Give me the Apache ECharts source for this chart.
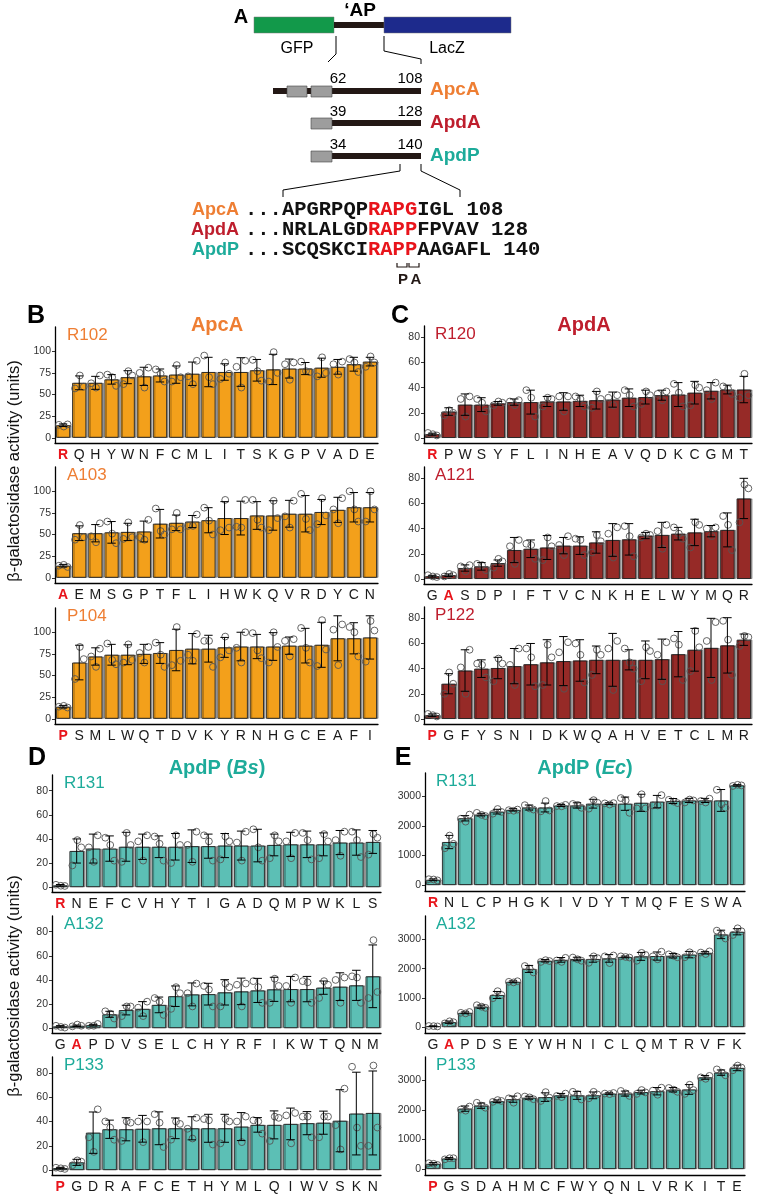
<!DOCTYPE html>
<html>
<head>
<meta charset="utf-8">
<script src="https://cdn.jsdelivr.net/npm/echarts@6/dist/echarts.min.js"></script>
<style>
  body { margin: 0; background: #fff; }
  #main { width: 759px; height: 1195px; }
</style>
</head>
<body>
<div id="main"></div>
<script>
// ---- data: B ApcA ----
var apcaR102Labels = ['R','Q','H','Y','W','N','F','C','M','L','I','T','S','K','G','P','V','A','D','E'];
var apcaR102Mean = [14.5,63.5,63.5,67.5,70,71,72,73,74,76,76,76,78,79,80,80,81,82,85,88];
var apcaR102Sd = [1.5,8,7.5,5.5,7.5,10.5,7.5,10,13.5,17,9.5,16.5,12.5,17.5,11,7,11,8.5,8,5];
var apcaR102Reps = [[15,13,15.5],[72,59,57],[72,63,58],[73,70,60],[77,72,62],[81,75,58],[79,74,65],[84,70,65],[89,71,62],[95,70,62],[87,74,68],[89,82,58],[90,77,66],[99,75,65],[87,85,67],[88,77,76],[93,75,71],[88,85,73],[91,87,76],[94,87,82]];

var apcaA103Labels = ['A','E','M','S','G','P','T','F','L','I','H','W','K','Q','V','R','D','Y','C','N'];
var apcaA103Mean = [14,51.5,51.5,52.5,53,53.5,62.5,63.5,65,66.5,69,69,72,72,74,74,76,78.5,81.5,81.5];
var apcaA103Sd = [1.5,8.5,10,12.5,10,12,16.5,9,7,14.5,19,19.5,16,17,15.5,21,14.5,14.5,17,17];
var apcaA103Reps = [[14,15,12.5],[61,47,44],[63,48,41],[65,51,40],[64,47,45],[67,47,44],[80,54,50],[75,56,56],[73,60,60],[81,66,50],[90,58,55],[90,59,58],[90,67,58],[89,69,55],[89,71,58],[97,68,55],[92,72,62],[92,79,63],[100,79,65],[100,79,65]];

var apcaP104Labels = ['P','S','M','L','W','Q','T','D','V','K','Y','R','N','H','G','C','E','A','F','I'];
var apcaP104Mean = [14,65,72,74,74,75,76,79.5,81,81,82.5,83.5,83.5,83.5,84.5,84.5,85.5,93,93,94];
var apcaP104Sd = [1.5,20,10,12,11.5,11,12,24,17.5,15.5,11.5,16.5,14,16,10,20,26,26,18,25];
var apcaP104Reps = [[14,15,13],[83,69,46],[81,72,60],[87,68,63],[86,68,65],[83,76,65],[88,74,60],[106,67,62],[98,74,67],[90,90,60],[95,79,71],[100,82,65],[99,79,70],[100,83,65],[92,90,72],[105,82,65],[114,80,61],[109,103,62],[106,100,72],[113,102,66]];

// ---- data: C ApdA ----
var apdaR120Labels = ['R','P','W','S','Y','F','L','I','N','H','E','A','V','Q','D','K','C','G','M','T'];
var apdaR120Mean = [3,21,26.5,26.5,27.5,28.5,28.5,29,29,29.5,30,30.5,32,32.5,34,34.5,36,37.5,38.5,38.5];
var apdaR120Sd = [0.8,3,8.5,5.5,1.5,2.5,9.5,4,7,4.5,7,6,7,5.5,4,9.5,9,6.5,3.5,10.5];
var apdaR120Reps = [[4,3,2],[22,20,18],[33,31,17],[31,28,21],[29,28,26],[30,29,26],[38,32,17],[32,31,25],[33,33,21],[33,31,25],[37,31,24],[34,32,26],[38,34,25],[37,34,27],[37,35,30],[43,36,25],[42,40,26],[44,38,31],[41,39,35],[51,34,32]];

var apdaA121Labels = ['G','A','S','D','P','I','F','T','V','C','N','K','H','E','L','W','Y','M','Q','R'];
var apdaA121Mean = [2.2,3,8.7,10,12.6,23,24,25,26.5,26.5,29,31,31.5,34.5,35,36,37,38,39,64];
var apdaA121Sd = [0.7,1,2.5,3,2.5,10,7,9.5,6.5,7,8.5,13,12.5,2.5,10,5,10.5,4.5,13.5,16];
var apdaA121Reps = [[3,2,1.5],[4,3,2],[11,10,6],[12,11,7],[16,14,9],[31,26,12],[28,27,16],[33,26,15],[34,27,19],[32,31,19],[35,30,21],[41,36,17],[42,34,18],[36,35,33],[43,38,24],[41,36,32],[45,43,25],[41,40,34],[50,43,23],[75,72,45]];

var apdaP122Labels = ['P','G','F','Y','S','N','I','D','K','W','Q','A','H','V','E','T','C','L','M','R'];
var apdaP122Mean = [3,28,38.5,40,40.5,42,43.5,45,46,46.5,47,47,47,47,47.5,51.5,55,56.5,58.5,63];
var apdaP122Sd = [1,8,16.5,7,8.5,14,16.5,18,19.5,16.5,11,21,8,15,16,18,17,23.5,22,4.5];
var apdaP122Reps = [[4,3,2],[37,28,20],[55,41,20],[44,43,33],[48,44,30],[56,43,27],[56,49,26],[59,49,27],[61,53,24],[60,51,29],[55,51,35],[62,56,23],[56,45,40],[57,54,30],[61,51,30],[64,59,31],[70,57,38],[77,62,31],[78,63,35],[66,65,58]];

// ---- data: D ApdP (Bs) ----
var bsR131Labels = ['R','N','E','F','C','V','H','Y','T','I','G','A','D','Q','M','P','W','K','L','S'];
var bsR131Mean = [1.5,30,32,32,33.5,33.5,33.5,33.5,34,34,34.5,34.5,34.5,35,35.5,35.5,35.5,37,37,37.5];
var bsR131Sd = [0.7,10,12,10.5,12,10.5,9,11,13.5,10,10,12,13.5,9,10,11,9.5,10,10.5,9.5];
var bsR131Reps = [[2,1.2,1],[39,33,18],[43,33,21],[41,35,22],[45,35,21],[43,38,22],[42,36,22],[43,35,20],[46,35,21],[43,38,22],[42,38,23],[46,37,22],[48,33,22],[43,38,24],[45,38,24],[45,39,23],[44,38,24],[46,39,26],[46,39,25],[44,41,27]];

var bsA132Labels = ['G','A','P','D','V','S','E','L','C','H','Y','R','F','I','K','W','T','Q','N','M'];
var bsA132Mean = [1.5,2,2.5,11.5,15,16,19.3,26.5,28,28.2,29.7,30.5,31.3,32.2,32.4,32.4,33.6,34.4,35.5,43];
var bsA132Sd = [0.6,0.6,0.7,2.5,4,6,6.5,8.5,9.5,9,10.5,11,10,10,10.5,10.5,5.5,11.5,12.5,26];
var bsA132Reps = [[2,1,0.5],[3,2,1.5],[3.5,2,2],[14,12,8],[18,18,10],[22,17,10],[25,22,11],[34,29,16],[37,29,18],[35,32,18],[37,34,18],[37,36,18],[39,34,21],[41,35,21],[42,35,21],[39,38,21],[39,36,25],[42,40,21],[43,42,21],[73,30,25]];

var bsP133Labels = ['P','G','D','R','A','F','C','E','T','H','Y','M','L','Q','I','W','V','S','K','N'];
var bsP133Mean = [1.7,6.4,30.8,33.6,33.6,34,34.4,34.4,34.4,34.4,34.4,35.8,37.2,37.2,38,38.6,39,40.6,46.5,47];
var bsP133Sd = [0.6,2.5,17,7.5,9.5,11,13.5,8.5,9.5,11.5,11.5,11.5,6,11.5,13,9.5,9.5,25.5,34,34.5];
var bsP133Reps = [[2,1.5,1],[8,7,4],[50,27,15],[40,35,25],[40,39,24],[40,40,23],[46,39,19],[40,38,25],[43,34,26],[42,41,21],[42,40,22],[44,40,23],[41,40,30],[44,43,24],[47,45,22],[44,44,27],[44,44,27],[67,37,17],[85,35,20],[86,35,20]];

// ---- data: E ApdP (Ec) ----
var ecR131Labels = ['R','N','L','C','P','H','G','K','I','V','D','Y','T','M','Q','F','E','S','W','A'];
var ecR131Mean = [180,1460,2265,2390,2490,2550,2630,2630,2700,2700,2760,2760,2760,2790,2830,2850,2870,2870,2870,3380];
var ecR131Sd = [30,225,90,45,80,40,85,150,35,90,150,30,225,290,210,85,70,70,370,25];
var ecR131Reps = [[200,190,160],[1680,1400,1250],[2390,2250,2150],[2450,2380,2340],[2580,2480,2420],[2560,2540,2520],[2710,2600,2560],[2850,2530,2500],[2720,2680,2670],[2750,2720,2620],[2880,2790,2590],[2780,2770,2730],[2950,2870,2450],[3080,2600,2600],[3050,2700,2700],[2890,2830,2780],[2900,2870,2800],[2930,2850,2800],[3230,2740,2620],[3400,3380,3360]];

var ecA132Labels = ['G','A','P','D','S','E','Y','W','H','N','I','C','L','Q','M','T','R','V','F','K'];
var ecA132Mean = [35,170,490,700,1100,1550,1990,2270,2300,2330,2330,2350,2400,2420,2430,2440,2480,2540,3170,3260];
var ecA132Sd = [10,40,30,55,120,30,120,40,80,60,110,130,30,135,140,75,110,40,145,105];
var ecA132Reps = [[40,35,25],[200,170,130],[520,490,470],[750,700,660],[1230,1100,990],[1570,1550,1530],[2090,2000,1870],[2290,2260,2230],[2370,2280,2230],[2380,2320,2270],[2420,2360,2200],[2450,2420,2190],[2420,2400,2380],[2540,2470,2270],[2580,2420,2320],[2490,2440,2390],[2560,2480,2390],[2590,2550,2500],[3300,3180,3030],[3380,3280,3150]];

var ecP133Labels = ['P','G','S','D','A','H','M','C','F','W','Y','Q','N','L','V','R','K','I','T','E'];
var ecP133Mean = [180,360,2050,2150,2300,2370,2420,2440,2500,2500,2500,2560,2560,2610,2640,2690,2700,3110,3270,3430];
var ecP133Sd = [40,30,90,90,45,105,50,145,65,135,115,25,85,65,125,75,165,65,90,95];
var ecP133Reps = [[200,180,140],[370,370,330],[2120,2020,1980],[2250,2150,2080],[2340,2310,2280],[2470,2400,2250],[2460,2430,2370],[2610,2420,2310],[2560,2480,2440],[2620,2540,2360],[2620,2530,2400],[2580,2560,2540],[2650,2570,2480],[2680,2600,2550],[2760,2660,2520],[2750,2690,2620],[2860,2680,2550],[3160,3110,3060],[3380,3270,3180],[3510,3440,3350]];

var ticksB = [0, 25, 50, 75, 100];
var ticksCD = [0, 20, 40, 60, 80];
var ticksE = [0, 1000, 2000, 3000];

// ---- styling ----
var FONT = '"Liberation Sans", Arial, Helvetica, sans-serif';
var MONO = '"Liberation Mono", "Courier New", monospace';
var ORANGE_BAR = '#F3A01B', ORANGE_TXT = '#EE7E33';
var RED_BAR = '#962A27', RED_TXT = '#BE1E2D';
var TEAL_BAR = '#5CBFB5', TEAL_TXT = '#1DAB9A';
var WT_RED = '#E8141B';
var JIT = [-0.26, 0.04, 0.28];

var panels = [
    {name: 'R102', labels: apcaR102Labels, mean: apcaR102Mean, sd: apcaR102Sd, reps: apcaR102Reps, bar: ORANGE_BAR, txt: ORANGE_TXT, left: 55, width: 323, top: 327, height: 116, min: -6, max: 128, ticks: ticksB},
    {name: 'A103', labels: apcaA103Labels, mean: apcaA103Mean, sd: apcaA103Sd, reps: apcaA103Reps, bar: ORANGE_BAR, txt: ORANGE_TXT, left: 55, width: 323, top: 467, height: 116, min: -6, max: 128, ticks: ticksB},
    {name: 'P104', labels: apcaP104Labels, mean: apcaP104Mean, sd: apcaP104Sd, reps: apcaP104Reps, bar: ORANGE_BAR, txt: ORANGE_TXT, left: 55, width: 323, top: 608, height: 116, min: -6, max: 128, ticks: ticksB},
    {name: 'R120', labels: apdaR120Labels, mean: apdaR120Mean, sd: apdaR120Sd, reps: apdaR120Reps, bar: RED_BAR, txt: RED_TXT, left: 424, width: 328, top: 326, height: 117, min: -4, max: 89, ticks: ticksCD},
    {name: 'A121', labels: apdaA121Labels, mean: apdaA121Mean, sd: apdaA121Sd, reps: apdaA121Reps, bar: RED_BAR, txt: RED_TXT, left: 424, width: 328, top: 467, height: 117, min: -4, max: 89, ticks: ticksCD},
    {name: 'P122', labels: apdaP122Labels, mean: apdaP122Mean, sd: apdaP122Sd, reps: apdaP122Reps, bar: RED_BAR, txt: RED_TXT, left: 424, width: 328, top: 607, height: 117, min: -4, max: 89, ticks: ticksCD},
    {name: 'R131', labels: bsR131Labels, mean: bsR131Mean, sd: bsR131Sd, reps: bsR131Reps, bar: TEAL_BAR, txt: TEAL_TXT, left: 52, width: 329, top: 775, height: 117, min: -4, max: 93, ticks: ticksCD},
    {name: 'A132', labels: bsA132Labels, mean: bsA132Mean, sd: bsA132Sd, reps: bsA132Reps, bar: TEAL_BAR, txt: TEAL_TXT, left: 52, width: 329, top: 916, height: 117, min: -4, max: 93, ticks: ticksCD},
    {name: 'P133', labels: bsP133Labels, mean: bsP133Mean, sd: bsP133Sd, reps: bsP133Reps, bar: TEAL_BAR, txt: TEAL_TXT, left: 52, width: 329, top: 1057, height: 118, min: -4, max: 93, ticks: ticksCD},
    {name: 'R131', labels: ecR131Labels, mean: ecR131Mean, sd: ecR131Sd, reps: ecR131Reps, bar: TEAL_BAR, txt: TEAL_TXT, left: 425, width: 320, top: 773, height: 118, min: -200, max: 3800, ticks: ticksE},
    {name: 'A132', labels: ecA132Labels, mean: ecA132Mean, sd: ecA132Sd, reps: ecA132Reps, bar: TEAL_BAR, txt: TEAL_TXT, left: 425, width: 320, top: 916, height: 117, min: -200, max: 3800, ticks: ticksE},
    {name: 'P133', labels: ecP133Labels, mean: ecP133Mean, sd: ecP133Sd, reps: ecP133Reps, bar: TEAL_BAR, txt: TEAL_TXT, left: 425, width: 320, top: 1057, height: 118, min: -200, max: 3800, ticks: ticksE}
];

function renderErr(params, api) {
    var i = api.value(0), m = api.value(1), s = api.value(2);
    var bw = api.size([1, 0])[0];
    var hi = api.coord([i, m + s]);
    var lo = api.coord([i, Math.max(m - s, 0)]);
    var cx = hi[0], cap = bw * 0.26;
    var kids = [];
    for (var r = 0; r < 3; r++) {
        var p = api.coord([i, api.value(3 + r)]);
        kids.push({
            type: 'circle',
            shape: {cx: cx + JIT[(r + i) % 3] * bw, cy: p[1], r: 3.4},
            style: {fill: 'none', stroke: '#555', lineWidth: 0.9}
        });
    }
    var ls = {stroke: '#000', lineWidth: 1};
    kids.push({type: 'line', shape: {x1: cx, y1: hi[1], x2: cx, y2: lo[1]}, style: ls});
    kids.push({type: 'line', shape: {x1: cx - cap, y1: hi[1], x2: cx + cap, y2: hi[1]}, style: ls});
    kids.push({type: 'line', shape: {x1: cx - cap, y1: lo[1], x2: cx + cap, y2: lo[1]}, style: ls});
    return {type: 'group', children: kids};
}

var grids = [], xAxes = [], yAxes = [], series = [], texts = [];

panels.forEach(function (p, k) {
    var wt = p.name.charAt(0);
    grids.push({left: p.left, top: p.top, width: p.width, height: p.height});
    xAxes.push({
        gridIndex: k, type: 'category', data: p.labels,
        axisLine: {onZero: false, lineStyle: {color: '#000', width: 1.3}},
        axisTick: {alignWithLabel: true, length: 3, lineStyle: {color: '#000'}},
        axisLabel: {
            interval: 0, fontSize: 14, color: '#1a1a1a', margin: 5, fontFamily: FONT,
            formatter: function (v) { return v === wt ? '{wt|' + v + '}' : v; },
            rich: {wt: {color: WT_RED, fontWeight: 'bold', fontSize: 14, fontFamily: FONT}}
        }
    });
    yAxes.push({
        gridIndex: k, type: 'value', min: p.min, max: p.max,
        splitLine: {show: false},
        axisLine: {show: true, lineStyle: {color: '#000', width: 1.3}},
        axisTick: {show: true, length: 3, customValues: p.ticks, lineStyle: {color: '#333'}},
        axisLabel: {customValues: p.ticks, fontSize: 10.5, color: '#333', margin: 4, fontFamily: FONT,
            formatter: function (v) { return String(v); }}
    });
    series.push({
        type: 'bar', xAxisIndex: k, yAxisIndex: k, data: p.mean, silent: true,
        barCategoryGap: '12%',
        itemStyle: {color: p.bar, borderColor: '#222', borderWidth: 0.9,
            shadowColor: 'rgba(0,0,0,0.35)', shadowOffsetX: 1.5, shadowOffsetY: 0, shadowBlur: 0}
    });
    series.push({
        type: 'custom', xAxisIndex: k, yAxisIndex: k, silent: true, z: 5,
        renderItem: renderErr,
        encode: {x: 0, y: 1},
        data: p.mean.map(function (m, i) {
            return [i, m, p.sd[i], p.reps[i][0], p.reps[i][1], p.reps[i][2]];
        })
    });
    texts.push({
        type: 'text', left: p.left + (p.left > 400 ? 11 : 12), top: p.top,
        style: {text: p.name, fill: p.txt, font: '17px ' + FONT}
    });
});

function txt(x, y, s, font, color, align, extra) {
    var o = {type: 'text', x: x, y: y, style: {text: s, font: font, fill: color || '#000',
        textAlign: align || 'center', textVerticalAlign: 'middle'}};
    if (extra) { for (var key in extra) { o.style[key] = extra[key]; } }
    return o;
}

function seqRich() {
    return {rich: {k: {fill: '#111', font: 'bold 20.5px ' + MONO}, r: {fill: WT_RED, font: 'bold 20.5px ' + MONO}}};
}

var DARK = '#231815';
var schematic = [
    txt(241, 17, 'A', 'bold 20px ' + FONT),
    {type: 'rect', shape: {x: 254, y: 17, width: 80, height: 16}, style: {fill: '#12994A', stroke: '#777', lineWidth: 0.5}},
    {type: 'rect', shape: {x: 334, y: 22, width: 50, height: 6}, style: {fill: DARK}},
    {type: 'rect', shape: {x: 384, y: 17, width: 127, height: 16}, style: {fill: '#1D2A8C', stroke: '#777', lineWidth: 0.5}},
    txt(360, 11, '\u2018AP', 'bold 19px ' + FONT),
    txt(297, 49, 'GFP', '16px ' + FONT),
    txt(447, 49, 'LacZ', '16px ' + FONT),
    {type: 'polyline', shape: {points: [[336, 36], [336, 54], [328, 62]]}, style: {stroke: '#000', lineWidth: 1, fill: null}},
    {type: 'polyline', shape: {points: [[384, 36], [384, 51], [421, 59], [421, 64]]}, style: {stroke: '#000', lineWidth: 1, fill: null}},
    // ApcA row
    {type: 'rect', shape: {x: 273, y: 88, width: 148, height: 6}, style: {fill: DARK}},
    {type: 'rect', shape: {x: 287, y: 86, width: 20, height: 11}, style: {fill: '#9d9d9d', stroke: '#444', lineWidth: 0.6}},
    {type: 'rect', shape: {x: 311, y: 86, width: 21, height: 11}, style: {fill: '#9d9d9d', stroke: '#444', lineWidth: 0.6}},
    txt(338, 79, '62', '15px ' + FONT), txt(410, 79, '108', '15px ' + FONT),
    txt(430, 90, 'ApcA', 'bold 19px ' + FONT, ORANGE_TXT, 'left'),
    // ApdA row
    {type: 'rect', shape: {x: 311, y: 120, width: 110, height: 6}, style: {fill: DARK}},
    {type: 'rect', shape: {x: 311, y: 118, width: 21, height: 11}, style: {fill: '#9d9d9d', stroke: '#444', lineWidth: 0.6}},
    txt(338, 112, '39', '15px ' + FONT), txt(410, 112, '128', '15px ' + FONT),
    txt(430, 123, 'ApdA', 'bold 19px ' + FONT, RED_TXT, 'left'),
    // ApdP row
    {type: 'rect', shape: {x: 311, y: 153, width: 110, height: 6}, style: {fill: DARK}},
    {type: 'rect', shape: {x: 311, y: 151, width: 21, height: 11}, style: {fill: '#9d9d9d', stroke: '#444', lineWidth: 0.6}},
    txt(338, 145, '34', '15px ' + FONT), txt(410, 145, '140', '15px ' + FONT),
    txt(430, 156, 'ApdP', 'bold 19px ' + FONT, TEAL_TXT, 'left'),
    {type: 'polyline', shape: {points: [[400, 164], [400, 171], [283, 190], [283, 197]]}, style: {stroke: '#000', lineWidth: 1, fill: null}},
    {type: 'polyline', shape: {points: [[421, 164], [421, 171], [460, 190], [460, 197]]}, style: {stroke: '#000', lineWidth: 1, fill: null}},
    // sequences
    txt(239, 210, 'ApcA', 'bold 18px ' + FONT, ORANGE_TXT, 'right'),
    txt(239, 230, 'ApdA', 'bold 18px ' + FONT, RED_TXT, 'right'),
    txt(239, 250, 'ApdP', 'bold 18px ' + FONT, TEAL_TXT, 'right'),
    txt(245, 210, '{k|...APGRPQP}{r|RAPG}{k|IGL 108}', 'bold 20.5px ' + MONO, '#111', 'left', seqRich()),
    txt(245, 230, '{k|...NRLALGD}{r|RAPP}{k|FPVAV 128}', 'bold 20.5px ' + MONO, '#111', 'left', seqRich()),
    txt(245, 250, '{k|...SCQSKCI}{r|RAPP}{k|AAGAFL 140}', 'bold 20.5px ' + MONO, '#111', 'left', seqRich()),
    {type: 'polyline', shape: {points: [[397, 263], [397, 267], [407, 267], [407, 263]]}, style: {stroke: DARK, lineWidth: 1.2, fill: null}},
    {type: 'polyline', shape: {points: [[409, 263], [409, 267], [419, 267], [419, 263]]}, style: {stroke: DARK, lineWidth: 1.2, fill: null}},
    txt(403, 280, 'P', 'bold 15px ' + FONT, DARK), txt(416, 280, 'A', 'bold 15px ' + FONT, DARK)
];

var labels = [
    txt(36, 316, 'B', 'bold 25px ' + FONT), txt(400, 316, 'C', 'bold 25px ' + FONT),
    txt(37, 758, 'D', 'bold 25px ' + FONT), txt(403, 758, 'E', 'bold 25px ' + FONT),
    txt(217, 325, 'ApcA', 'bold 20px ' + FONT, ORANGE_TXT),
    txt(584, 325, 'ApdA', 'bold 20px ' + FONT, RED_TXT),
    txt(217, 768, '{b|ApdP (}{i|Bs}{b|)}', 'bold 20px ' + FONT, TEAL_TXT, 'center',
        {rich: {b: {fill: TEAL_TXT, font: 'bold 20px ' + FONT}, i: {fill: TEAL_TXT, font: 'italic bold 20px ' + FONT}}}),
    txt(585, 768, '{b|ApdP (}{i|Ec}{b|)}', 'bold 20px ' + FONT, TEAL_TXT, 'center',
        {rich: {b: {fill: TEAL_TXT, font: 'bold 20px ' + FONT}, i: {fill: TEAL_TXT, font: 'italic bold 20px ' + FONT}}}),
    {type: 'text', x: 14, y: 471, rotation: Math.PI / 2,
        style: {text: '\u03b2-galactosidase activity (units)', font: '16.5px ' + FONT, fill: '#111', textAlign: 'center', textVerticalAlign: 'middle'}},
    {type: 'text', x: 14, y: 986, rotation: Math.PI / 2,
        style: {text: '\u03b2-galactosidase activity (units)', font: '16.5px ' + FONT, fill: '#111', textAlign: 'center', textVerticalAlign: 'middle'}}
];

var myChart = echarts.init(document.getElementById('main'));
myChart.setOption({
    animation: false,
    backgroundColor: '#fff',
    grid: grids,
    xAxis: xAxes,
    yAxis: yAxes,
    series: series,
    graphic: schematic.concat(labels).concat(texts)
});
</script>
</body>
</html>
